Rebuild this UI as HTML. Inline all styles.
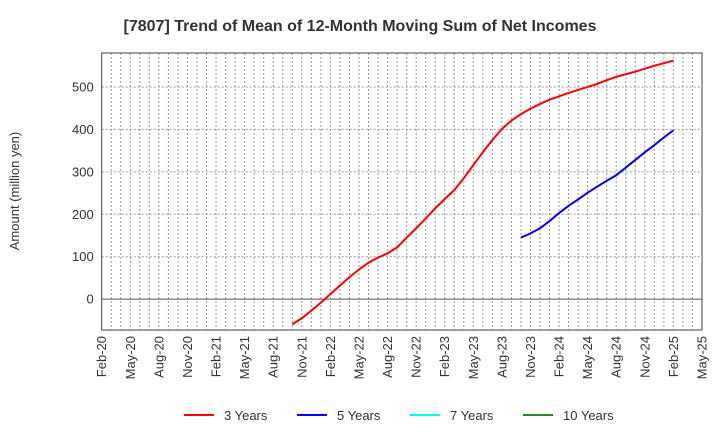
<!DOCTYPE html>
<html><head><meta charset="utf-8"><style>
body{margin:0;background:#fff;}
svg text{font-family:"Liberation Sans",sans-serif;fill:#333;}
</style></head><body>
<svg id="chart" width="720" height="440" xmlns="http://www.w3.org/2000/svg">
<text x="360" y="31" text-anchor="middle" font-size="16" font-weight="bold">[7807]  Trend of Mean of 12-Month Moving Sum of Net Incomes</text>
<text transform="translate(19,191) rotate(-90)" text-anchor="middle" font-size="13">Amount (million yen)</text>
<g id="grid"></g><g id="axes"></g><g id="series"></g>
<g>
<g><line x1="184" y1="415" x2="214" y2="415" stroke="#ff0000" stroke-width="2"/><text x="224" y="420" font-size="13">3 Years</text></g>
<g><line x1="297" y1="415" x2="327" y2="415" stroke="#0000ff" stroke-width="2"/><text x="337" y="420" font-size="13">5 Years</text></g>
<g><line x1="410" y1="415" x2="440" y2="415" stroke="#00ffff" stroke-width="2"/><text x="450" y="420" font-size="13">7 Years</text></g>
<g><line x1="523" y1="415" x2="553" y2="415" stroke="#228b22" stroke-width="2"/><text x="563" y="420" font-size="13">10 Years</text></g>
</g>
</svg>
<script>
const xTickLabels=["Feb-20","May-20","Aug-20","Nov-20","Feb-21","May-21","Aug-21","Nov-21","Feb-22","May-22","Aug-22","Nov-22","Feb-23","May-23","Aug-23","Nov-23","Feb-24","May-24","Aug-24","Nov-24","Feb-25","May-25"];
const yTicks=[0,100,200,300,400,500];
const red3yStart=20;
const red3y=[-59,-45,-27,-8,12,32,52,70,86,98,108,122,145,167,190,214,236,257,285,316,346,375,401,421,436,449,460,470,478,486,493,500,507,516,524,530,536,543,550,556,562];
const blue5yStart=44;
const blue5y=[145,155,167,184,203,220,235,251,265,279,292,310,328,346,363,381,398];
const L=101.7,R=702,T=53,B=330,NM=63,YMIN=-72.6,YMAX=580;
const xs=i=>L+(R-L)*i/NM;
const ys=v=>B-(v-YMIN)/(YMAX-YMIN)*(B-T);
const NS="http://www.w3.org/2000/svg";
function mk(tag,attrs,parent){const e=document.createElementNS(NS,tag);for(const k in attrs)e.setAttribute(k,attrs[k]);parent.appendChild(e);return e;}
const grid=document.getElementById('grid'),axes=document.getElementById('axes'),ser=document.getElementById('series');
for(let m=1;m<NM;m++){const g=mk('line',{x1:xs(m),x2:xs(m),y1:T,y2:B,stroke:'#999','stroke-width':1,'stroke-dasharray':'2,2'},grid);

}
yTicks.forEach(v=>{const g=mk('line',{x1:L,x2:R,y1:ys(v),y2:ys(v),stroke:v===0?'#555':'#999','stroke-width':1,'stroke-dasharray':v===0?'':'2,2'},grid);


const t=mk('text',{x:L-8,y:ys(v)+4.5,'text-anchor':'end','font-size':'13'},axes);t.textContent=v;

});
xTickLabels.forEach((s,i)=>{const x=xs(i*3);const t=mk('text',{transform:`translate(${x+4.5},${B+6}) rotate(-90)`,'text-anchor':'end','font-size':'13'},axes);t.textContent=s;

});
const box=mk('rect',{x:L,y:T,width:R-L,height:B-T,fill:'none',stroke:'#444','stroke-width':1},axes);


function line(arr,start,color,name){const p=mk('polyline',{points:arr.map((v,i)=>xs(start+i)+','+ys(v)).join(' '),fill:'none',stroke:color,'stroke-width':2,'stroke-linejoin':'round'},ser);

}
line(red3y,red3yStart,'#ff0000','series-3-years');
line(blue5y,blue5yStart,'#0000ff','series-5-years');
</script>
</body></html>
